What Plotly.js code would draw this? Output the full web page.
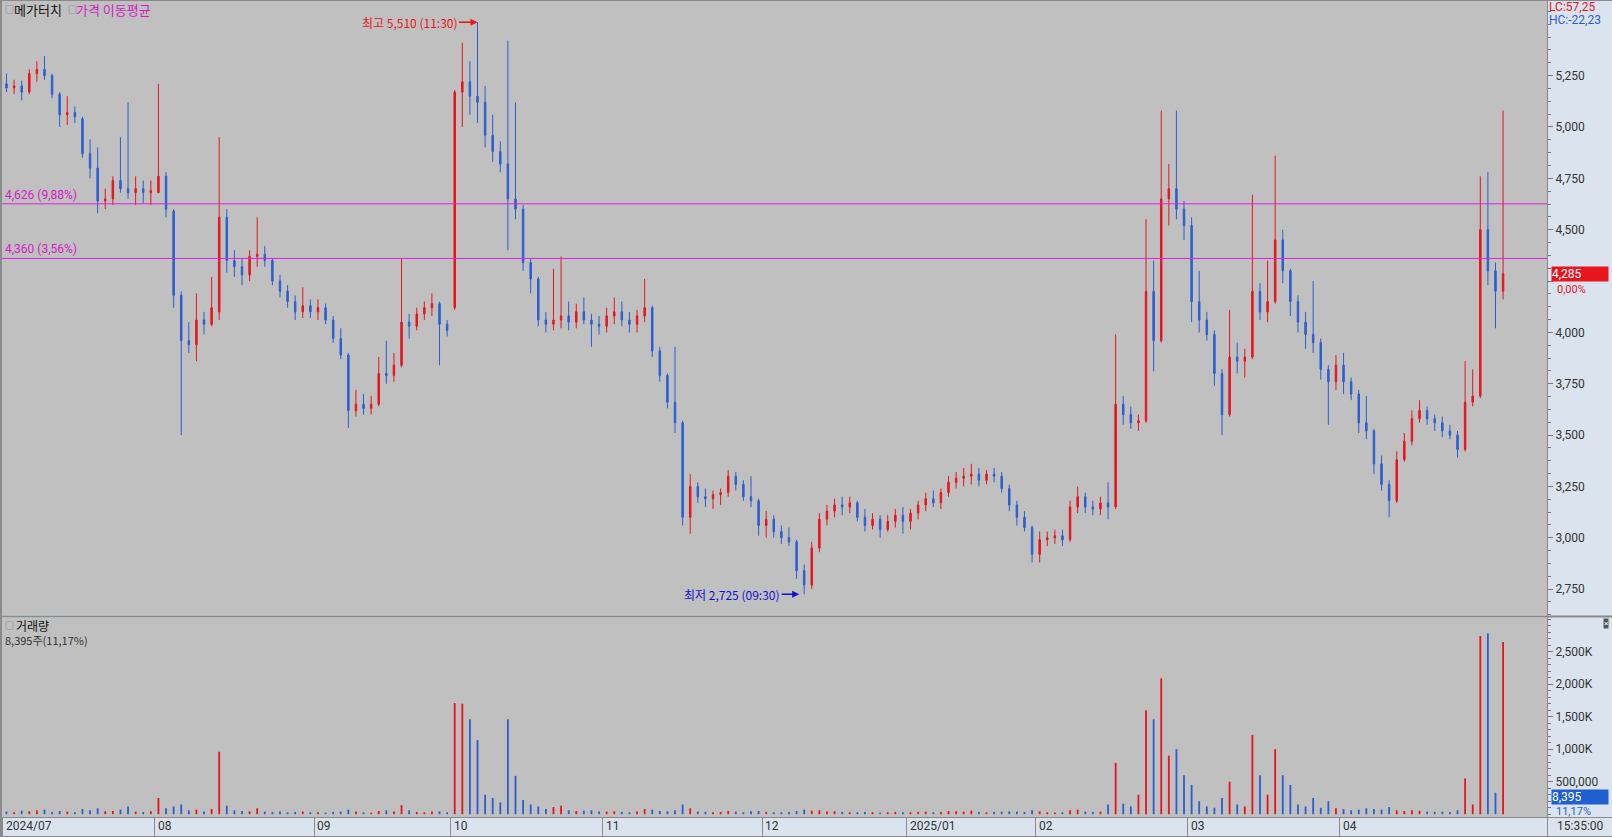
<!DOCTYPE html>
<html><head><meta charset="utf-8">
<script src="https://cdn.plot.ly/plotly-3.0.1.min.js"></script>
<style>html,body{margin:0;padding:0;background:#dbe4ee;overflow:hidden}#chart{width:1612px;height:837px}</style>
</head><body><div id="chart"></div>
<script>
// ---- data (daily bars) ----
const monthLabels = ['2024/07','08','09','10','11','12','2025/01','02','03','04'];
const monthBarCounts = [20,21,18,20,21,19,17,20,20,22];

const openPrice = [
 5210,5190,5200,5170,5260,5280,5250,5160,5060,5070,5040,4870,4800,4640,4650,4740,4700,4680,4700,4680,
 4680,4760,4590,4180,3960,3940,4060,4040,4100,4560,4350,4320,4280,4370,4380,4350,4250,4200,4150,4100,4130,
 4100,4120,4060,3970,3890,3620,3650,3630,3650,3800,3790,3840,4050,4030,4090,4120,4140,4040,
 4120,5170,5220,5150,5120,4960,4880,4820,4650,4600,4340,4260,4060,4040,4060,4080,4050,4100,4060,4040,
 4030,4080,4100,4060,4040,4080,4120,3910,3790,3660,3560,3100,3250,3200,3190,3210,3220,3300,3260,3200,3180,
 3060,3090,3030,3000,2980,2840,2770,2950,3090,3130,3160,3150,3170,3100,3060,3090,3040,3080,3110,
 3080,3120,3160,3190,3170,3220,3270,3290,3300,3310,3280,3310,3300,3240,3160,3100,3050,
 2920,2990,3000,3010,2990,3150,3200,3150,3140,3170,3150,3650,3600,3560,3570,4200,3960,4650,4700,4600,
 4520,4150,4060,3990,3800,3600,3880,3860,3880,4200,4100,4150,4450,4300,4150,4050,3990,3950,3820,3760,
 3840,3760,3700,3560,3520,3360,3260,3180,3380,3470,3580,3620,3580,3560,3520,3500,3430,3660,3690,4500,4300,4200
];
const highPrice = [
 5260,5230,5225,5280,5320,5345,5260,5170,5150,5100,5050,4940,4900,4700,4760,4950,5120,4760,4740,4740,
 5210,4780,4600,4200,4050,4190,4100,4270,4950,4600,4400,4360,4400,4560,4420,4360,4280,4230,4180,4220,4160,
 4160,4140,4080,4020,3900,3720,3700,3690,3880,3960,3900,4360,4090,4120,4150,4190,4150,4060,
 5180,5410,5320,5510,5200,5060,4930,5420,5120,4620,4360,4270,4100,4310,4370,4150,4140,4170,4090,4080,
 4120,4170,4150,4100,4110,4260,4130,3930,3800,3930,3570,3310,3270,3240,3230,3240,3330,3320,3280,3300,3190,
 3130,3110,3060,3050,2990,2870,2980,3120,3160,3190,3200,3200,3180,3140,3120,3110,3110,3140,3150,
 3140,3180,3220,3230,3240,3300,3320,3340,3360,3340,3330,3340,3320,3260,3180,3130,3060,
 3030,3030,3040,3040,3180,3250,3220,3180,3200,3270,3990,3690,3640,3600,4550,4350,5080,4820,5080,4640,
 4560,4300,4100,4010,3820,4110,3950,3920,4670,4240,4350,4860,4500,4310,4180,4100,4250,3970,3840,3890,
 3900,3780,3720,3690,3530,3400,3280,3420,3510,3620,3670,3640,3600,3590,3550,3520,3860,3820,4760,4780,4340,5080
];
const lowPrice = [
 5170,5160,5130,5160,5220,5230,5140,5000,5010,5020,4850,4750,4580,4600,4620,4680,4650,4620,4630,4620,
 4680,4560,4120,3500,3900,3860,3990,4030,4060,4290,4270,4230,4250,4320,4320,4230,4170,4120,4060,4070,4070,
 4060,4040,3950,3870,3535,3590,3600,3600,3640,3750,3760,3830,3970,4010,4060,4080,3840,3980,
 4110,5000,5060,5020,4900,4830,4780,4400,4550,4300,4190,4030,4000,4010,4020,4010,4020,4040,3930,3990,
 4000,4040,4030,4000,4000,4050,3880,3760,3630,3510,3060,3020,3170,3150,3140,3160,3200,3230,3180,3150,3010,
 3000,3000,2970,2960,2800,2725,2750,2930,3060,3100,3110,3120,3080,3030,3040,3000,3030,3050,3020,
 3040,3090,3130,3150,3140,3200,3240,3250,3260,3250,3260,3270,3220,3130,3060,3030,2880,
 2880,2960,2970,2960,2980,3120,3120,3110,3110,3090,3140,3550,3530,3520,3560,3810,3950,4520,4550,4450,
 4050,4000,3960,3740,3500,3590,3800,3780,3870,4060,4050,4140,4240,4080,4000,3920,3900,3770,3550,3720,
 3700,3670,3510,3480,3310,3230,3100,3170,3370,3450,3560,3550,3520,3490,3480,3390,3420,3640,3680,4230,4020,4160
];
const closePrice = [
 5190,5200,5170,5260,5280,5250,5160,5060,5070,5050,4870,4800,4640,4650,4740,4700,4680,4700,4680,4690,
 4760,4600,4180,3960,3940,4060,4040,4120,4560,4350,4320,4280,4370,4380,4350,4250,4200,4150,4100,4130,4100,
 4120,4060,3970,3890,3620,3650,3630,3650,3800,3790,3840,4050,4030,4090,4120,4140,4040,4010,
 5170,5220,5150,5120,4960,4880,4820,4650,4600,4340,4260,4060,4040,4060,4080,4050,4100,4060,4040,4030,
 4080,4100,4060,4040,4080,4120,3910,3790,3660,3560,3100,3250,3200,3190,3210,3220,3300,3260,3200,3180,3060,
 3090,3030,3000,2980,2840,2770,2950,3090,3130,3160,3150,3170,3100,3060,3090,3040,3080,3110,3080,
 3120,3160,3190,3170,3220,3270,3290,3300,3310,3280,3310,3300,3240,3160,3100,3050,2920,
 2990,3000,3010,2990,3150,3200,3150,3140,3170,3150,3650,3600,3560,3570,4200,3960,4650,4700,4600,4520,
 4150,4060,3990,3800,3600,3880,3860,3880,4200,4100,4150,4450,4300,4150,4050,3990,3950,3820,3760,3840,
 3760,3700,3560,3520,3360,3260,3180,3380,3470,3580,3620,3580,3560,3520,3500,3430,3660,3690,4500,4300,4200,4285
];
const volumeK = [
 40,30,55,45,60,70,35,50,40,30,80,60,90,45,50,70,120,40,35,45,
 250,90,120,150,60,70,40,80,960,130,60,50,45,90,40,35,40,30,35,40,30,
 30,25,35,40,70,40,30,25,50,60,40,140,60,35,30,40,45,30,
 1710,1700,1460,1140,300,250,180,1460,590,220,150,120,80,110,130,60,50,55,60,40,
 40,45,35,30,40,80,70,50,45,60,150,90,40,35,30,35,50,40,30,45,50,
 35,30,30,35,50,70,55,60,40,45,35,30,30,35,30,25,30,35,30,
 30,35,40,30,35,50,45,40,55,35,30,35,40,45,40,35,60,
 45,30,25,30,60,70,40,35,40,150,790,160,120,300,1600,1460,2090,900,1000,600,
 450,200,120,100,250,500,150,120,1220,600,300,1000,600,450,150,120,250,100,200,90,
 80,60,70,90,80,70,110,60,50,60,55,40,35,40,35,60,550,150,2740,2780,330,2650
];
const levelLines = [{price:4626, label:'4,626 (9,88%)'},{price:4360, label:'4,360 (3,56%)'}];
const priceTicks = [2750,3000,3250,3500,3750,4000,4250,4500,4750,5000,5250];
const priceTickText = ['2,750','3,000','3,250','3,500','3,750','4,000','','4,500','4,750','5,000','5,250'];
const volTickVals = [500000,1000000,1500000,2000000,2500000];
const volTickText = ['500,000','1,000K','1,500K','2,000K','2,500K'];

// ---- derived ----
const xIdx = closePrice.map((_, i) => i);
const monthStarts = []; { let s = 0; monthBarCounts.forEach(c => { monthStarts.push(s); s += c; }); }
const monthTickPos = monthStarts.map(s => s - 0.5);
const UP = '#e8141e', DOWN = '#2a5ed2';
const volColors = closePrice.map((c, i) => c >= openPrice[i] ? UP : DOWN);
let hiI = 0, loI = 0;
highPrice.forEach((v, i) => { if (v > highPrice[hiI]) hiI = i; });
lowPrice.forEach((v, i) => { if (v < lowPrice[loI]) loI = i; });
const fmt = v => v.toLocaleString('en-US');
const lastClose = closePrice[closePrice.length - 1];

// pixel helpers for the frame (plot area: x 2..1547, y 1..817)
const PL = 2, PT = 1, PW = 1545, PH = 816;
const px = p => (p - PL) / PW;
const py = p => (PT + PH - p) / PH;

const FONT = 'Roboto, "Noto Sans CJK KR", sans-serif';
const KFONT = '"Noto Sans CJK KR", Roboto, sans-serif';

const traces = [
 {type:'candlestick', x:xIdx, open:openPrice, high:highPrice, low:lowPrice, close:closePrice,
  xaxis:'x', yaxis:'y', whiskerwidth:0, hoverinfo:'skip',
  increasing:{line:{color:UP, width:1}, fillcolor:UP},
  decreasing:{line:{color:DOWN, width:1}, fillcolor:DOWN}},
 {type:'bar', x:xIdx, y:volumeK.map(v => v * 1000), xaxis:'x', yaxis:'y2', width:0.24,
  marker:{color:volColors, line:{width:0}}, hoverinfo:'skip'}
];

const ann = [];
const T = (x, y, text, o) => ann.push(Object.assign({xref:'paper', yref:'paper', x:px(x), y:py(y), text,
  showarrow:false, xanchor:'left', yanchor:'middle', borderpad:0, font:{family:KFONT, size:13, color:'#111'}}, o || {}));

T(4, 10, '□', {font:{family:KFONT, size:9, color:'#666'}});
T(13, 10, '메가터치', {font:{family:KFONT, size:13, color:'#111'}});
T(67, 10, '□', {font:{family:KFONT, size:9, color:'#666'}});
T(75, 10, '가격 이동평균', {font:{family:KFONT, size:13, color:'#d21cc8'}});
T(4, 625, '□', {font:{family:KFONT, size:9, color:'#666'}});
T(15, 625, '거래량', {font:{family:KFONT, size:12, color:'#111'}});
T(4, 640, '8,395주(11,17%)', {font:{family:KFONT, size:11, color:'#333'}});
T(1548, 7, 'LC:57,25', {font:{family:FONT, size:12, color:'#e8141e'}});
T(1548, 20, 'HC:-22,23', {font:{family:FONT, size:12, color:'#2a5ed2'}});
T(1556, 289, '0,00%', {font:{family:FONT, size:11, color:'#e8141e'}});
T(1555, 811, '11,17%', {font:{family:FONT, size:11, color:'#2a5ed2'}});
T(1556, 826, '15:35:00', {font:{family:FONT, size:12, color:'#333'}});
T(1551, 797, '8,395', {font:{family:FONT, size:12, color:'#fff'}, bgcolor:'#1f5fd0', width:56, align:'left'});
ann.push({xref:'paper', yref:'y', x:px(1551), y:lastClose, text:fmt(lastClose), showarrow:false,
  xanchor:'left', yanchor:'middle', bgcolor:'#e8141e', width:56, align:'left', borderpad:0,
  font:{family:FONT, size:12, color:'#fff'}});
T(1603, 623, '×', {font:{family:FONT, size:8, color:'#fff'}, bgcolor:'#555'});

levelLines.forEach(l => ann.push({xref:'paper', yref:'y', x:px(3), y:l.price, text:l.label, showarrow:false,
  xanchor:'left', yanchor:'bottom', font:{family:FONT, size:12, color:'#d21cc8'}}));

ann.push({xref:'x', yref:'y', x:hiI, y:highPrice[hiI], text:'최고 ' + fmt(highPrice[hiI]) + ' (11:30)',
  showarrow:true, ax:-68, ay:0, arrowhead:2, arrowsize:1, arrowwidth:1.4, arrowcolor:'#e8141e', standoff:0,
  font:{family:KFONT, size:12, color:'#e8141e'}});
ann.push({xref:'x', yref:'y', x:loI, y:lowPrice[loI], text:'최저 ' + fmt(lowPrice[loI]) + ' (09:30)',
  showarrow:true, ax:-72, ay:0, arrowhead:2, arrowsize:1, arrowwidth:1.4, arrowcolor:'#1010d0', standoff:5,
  font:{family:KFONT, size:12, color:'#1010d0'}});

monthTickPos.forEach((p, i) => ann.push({xref:'x', yref:'paper', x:p, y:py(826), text:monthLabels[i],
  showarrow:false, xanchor:'left', yanchor:'middle', xshift:1, font:{family:FONT, size:12, color:'#333'}}));

const shapes = [];
levelLines.forEach(l => shapes.push({type:'line', xref:'paper', yref:'y', x0:0, x1:1, y0:l.price, y1:l.price,
  line:{color:'#e020e0', width:1}}));
const G = '#8a8a8a';
shapes.push({type:'line', xref:'paper', yref:'paper', x0:px(0), x1:px(1612), y0:py(616.5), y1:py(616.5), line:{color:G, width:2}});
shapes.push({type:'line', xref:'paper', yref:'paper', x0:px(0), x1:px(1612), y0:py(817.5), y1:py(817.5), line:{color:G, width:1}});
shapes.push({type:'line', xref:'paper', yref:'paper', x0:px(0), x1:px(1612), y0:py(0.5), y1:py(0.5), line:{color:G, width:1}});
shapes.push({type:'line', xref:'paper', yref:'paper', x0:px(0), x1:px(1612), y0:py(836.5), y1:py(836.5), line:{color:G, width:1}});
shapes.push({type:'line', xref:'paper', yref:'paper', x0:px(1), x1:px(1), y0:py(0), y1:py(837), line:{color:G, width:2}});
shapes.push({type:'line', xref:'paper', yref:'paper', x0:px(1547.5), x1:px(1547.5), y0:py(0), y1:py(837), line:{color:G, width:1}});

const axisCommon = {side:'right', anchor:'x', showgrid:false, zeroline:false, fixedrange:true,
  ticks:'outside', ticklen:5, tickcolor:'#777', tickwidth:1, showline:false,
  tickfont:{family:FONT, size:12, color:'#333'}};

const layout = {
  width:1612, height:837, margin:{l:PL, r:1612 - PL - PW, t:PT, b:837 - PT - PH, pad:0},
  paper_bgcolor:'#dbe4ee', plot_bgcolor:'#c0c0c0', showlegend:false, hovermode:false, dragmode:false,
  font:{family:FONT, size:12, color:'#333'},
  boxgap:0.72,
  xaxis:{range:[-0.592, 202.78], anchor:'y2', showgrid:false, zeroline:false, showticklabels:false,
    ticks:'outside', ticklen:19, tickcolor:G, tickwidth:1, tickvals:monthTickPos, fixedrange:true,
    rangeslider:{visible:false}, showline:false},
  yaxis:Object.assign({}, axisCommon, {domain:[py(615), 1], range:[2624.1, 5613.4],
    tickvals:priceTicks, ticktext:priceTickText, minor:{dtick:62.5, ticklen:3, tickcolor:'#777', ticks:'outside'}}),
  yaxis2:Object.assign({}, axisCommon, {domain:[0, py(618)], range:[-43077, 3018461],
    tickvals:volTickVals, ticktext:volTickText, minor:{dtick:100000, ticklen:3, tickcolor:'#777', ticks:'outside'}}),
  annotations:ann, shapes:shapes
};

Plotly.newPlot('chart', traces, layout, {staticPlot:true, displayModeBar:false});
</script></body></html>
